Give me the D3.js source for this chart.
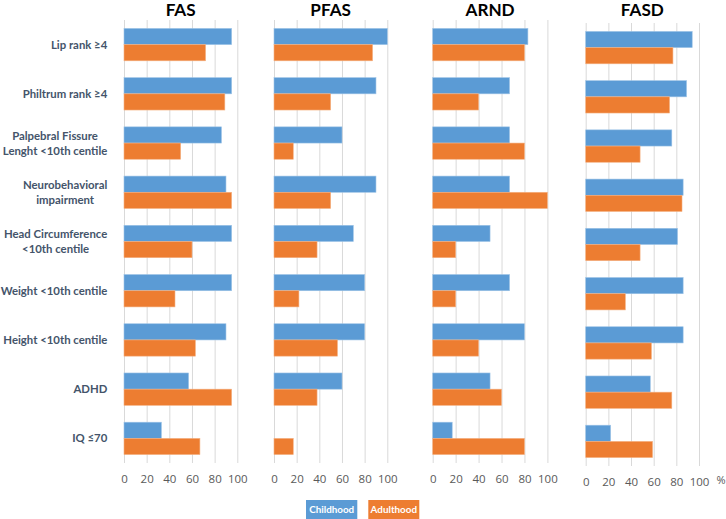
<!DOCTYPE html>
<html>
<head>
<meta charset="utf-8">
<script src="https://cdn.jsdelivr.net/npm/d3@7"></script>
<style>
  body { margin: 0; background: #fff; }
  svg { display: block; font-family: Lato, "Open Sans", sans-serif; }
</style>
</head>
<body>
<div id="chart"></div>
<script>
// categories, top to bottom
var categories = [
  ["Lip rank \u22654"],
  ["Philtrum rank \u22654"],
  ["Palpebral Fissure", "Lenght <10th centile"],
  ["Neurobehavioral", "impairment"],
  ["Head Circumference", "<10th centile"],
  ["Weight <10th centile"],
  ["Height <10th centile"],
  ["ADHD"],
  ["IQ \u226470"]
];
var panelNames = ["FAS", "PFAS", "ARND", "FASD"];
var ticks = [0, 20, 40, 60, 80, 100];

// % values
var fasChild   = [95, 95, 86, 90, 95, 95, 90, 57, 33];
var fasAdult   = [72, 89, 50, 95, 60, 45, 63, 95, 67];
var pfasChild  = [100, 90, 60, 90, 70, 80, 80, 60, 0];
var pfasAdult  = [87, 50, 17, 50, 38, 22, 56, 38, 17];
var arndChild  = [83, 67, 67, 67, 50, 67, 80, 50, 17];
var arndAdult  = [80, 40, 80, 100, 20, 20, 40, 60, 80];
var fasdChild  = [94, 89, 76, 86, 81, 86, 86, 57, 22];
var fasdAdult  = [77, 74, 48, 85, 48, 35, 58, 76, 59];

var childSeries = [fasChild, pfasChild, arndChild, fasdChild];
var adultSeries = [fasAdult, pfasAdult, arndAdult, fasdAdult];

var blue = "#5b9bd5", orange = "#ed7d31";

var width = 726, height = 519;

// panel layout
var panelLeft = [124, 274, 432.7, 585.7],
    panelWidth = [113.3, 113.3, 114.7, 113.3],
    panelTop = [20, 20, 20, 23],
    plotH = 443;

var svg = d3.select("#chart")
  .append("svg")
    .attr("width", width)
    .attr("height", height);

// pick a font size so that a text gets a given width
function fitSize(sample, weight, family, target, base) {
  var t = svg.append("text")
    .style("font-family", family)
    .style("font-weight", weight)
    .style("font-size", base + "px")
    .text(sample);
  var w = t.node().getComputedTextLength();
  t.remove();
  return base * target / w;
}

var labelSize = fitSize("Lenght <10th centile", "bold", "Lato", 104.7, 11);
var legendSize = fitSize("Childhood", "bold", "Lato", 45, 11);
var titleSize = fitSize("FAS", "bold", "Lato", 30, 17);

var keys = categories.map(function(c) { return c.join(" "); });

panelNames.forEach(function(name, p) {
  var x = d3.scaleLinear()
      .domain([0, 100])
      .range([panelLeft[p], panelLeft[p] + panelWidth[p]]);
  var y = d3.scaleBand()
      .domain(keys)
      .range([panelTop[p], panelTop[p] + plotH]);
  var ySub = d3.scaleBand()
      .domain(["child", "adult"])
      .range([0, y.bandwidth()])
      .paddingOuter(0.52);

  var g = svg.append("g");

  // gridlines + tick labels
  var ax = g.append("g")
    .attr("transform", "translate(0," + (panelTop[p] + plotH) + ")")
    .call(d3.axisBottom(x).tickValues(ticks).tickSize(-plotH).tickPadding(12));
  ax.select(".domain").remove();
  ax.selectAll(".tick line").attr("stroke", "#d9d9d9").attr("stroke-width", 1);
  ax.selectAll(".tick text")
    .attr("fill", "#595959")
    .style("font-size", "11.5px")
    .style("font-family", "'Open Sans', sans-serif");

  var rows = keys.map(function(k, i) {
    return { key: k, child: childSeries[p][i], adult: adultSeries[p][i] };
  });

  g.selectAll(".cbar")
    .data(rows)
    .enter()
    .append("rect")
    .attr("x", x(0))
    .attr("y", function(d) { return y(d.key) + ySub("child"); })
    .attr("width", function(d) { return x(d.child) - x(0); })
    .attr("height", ySub.bandwidth())
    .attr("fill", blue)
    .attr("stroke", "#9dc3e6")
    .attr("stroke-width", 0.6);

  g.selectAll(".abar")
    .data(rows)
    .enter()
    .append("rect")
    .attr("x", x(0))
    .attr("y", function(d) { return y(d.key) + ySub("adult"); })
    .attr("width", function(d) { return x(d.adult) - x(0); })
    .attr("height", ySub.bandwidth())
    .attr("fill", orange)
    .attr("stroke", "#f4b183")
    .attr("stroke-width", 0.6);

  // panel title
  svg.append("text")
    .attr("x", (x(0) + x(100)) / 2)
    .attr("y", 16)
    .attr("text-anchor", "middle")
    .attr("fill", "#000")
    .style("font-size", titleSize + "px")
    .style("font-weight", "bold")
    .text(name);

  // category labels only on first panel
  if (p === 0) {
    var labelRight = 107.3;
    keys.forEach(function(k, i) {
      var lines = categories[i];
      var t = svg.append("text")
        .attr("fill", "#44546a")
        .style("font-size", labelSize + "px")
        .style("font-weight", "bold")
        .attr("text-anchor", "middle");
      var cy = y(k) + y.bandwidth() / 2;
      var lh = 15;
      lines.forEach(function(line, j) {
        t.append("tspan")
          .attr("y", cy + (j - (lines.length - 1) / 2) * lh)
          .attr("dy", "0.35em")
          .text(line);
      });
      // block is right aligned, lines centred inside it
      var maxW = 0;
      t.selectAll("tspan").each(function() {
        maxW = Math.max(maxW, this.getComputedTextLength());
      });
      t.selectAll("tspan").attr("x", labelRight - maxW / 2);
    });
  }
});

// % unit label
svg.append("text")
  .attr("x", 721)
  .attr("y", 484)
  .attr("text-anchor", "middle")
  .attr("fill", "#595959")
  .style("font-size", "11px")
  .style("font-family", "'Open Sans', sans-serif")
  .text("%");

// legend
var legend = [
  { label: "Childhood", color: blue, x: 306, w: 51.3 },
  { label: "Adulthood", color: orange, x: 368.3, w: 51 }
];
var lg = svg.selectAll(".leg")
  .data(legend)
  .enter()
  .append("g");
lg.append("rect")
  .attr("x", function(d) { return d.x; })
  .attr("y", 500)
  .attr("width", function(d) { return d.w; })
  .attr("height", 20)
  .attr("fill", function(d) { return d.color; });
lg.append("text")
  .attr("x", function(d) { return d.x + d.w / 2; })
  .attr("y", 510)
  .attr("dy", "0.35em")
  .attr("text-anchor", "middle")
  .attr("fill", "#fff")
  .style("font-size", legendSize + "px")
  .style("font-weight", "bold")
  .text(function(d) { return d.label; });
</script>
</body>
</html>
